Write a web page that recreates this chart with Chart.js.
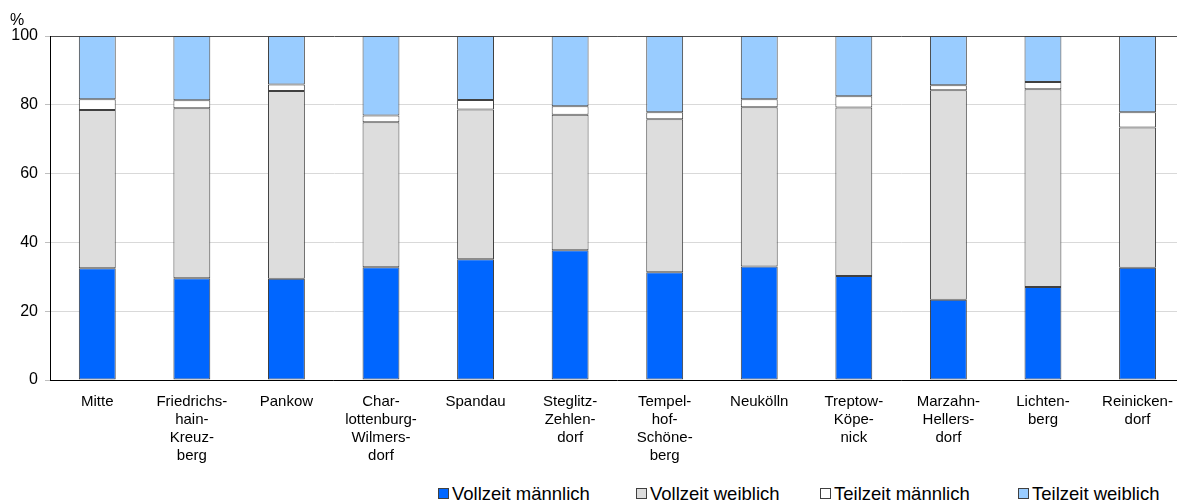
<!DOCTYPE html>
<html>
<head>
<meta charset="utf-8">
<script src="https://cdn.jsdelivr.net/npm/chart.js@4/dist/chart.umd.min.js"></script>
<style>
  body { margin: 0; background: #fff; }
  #wrap { position: relative; width: 1177px; height: 501px; overflow: hidden; font-family: "Liberation Sans", Arial, sans-serif; }
  #chart { position: absolute; left: 0; top: 0; }
  #unit { position: absolute; left: 10px; top: 11px; font-size: 16px; color: #000; }
  #legend { position: absolute; top: 484px; left: 0; font-size: 18.5px; color: #000; }
  .item { position: absolute; white-space: nowrap; line-height: 20px; }
  .box { display: inline-block; width: 9px; height: 9px; border: 1px solid #404040; margin-right: 3px; vertical-align: 1px; }
</style>
</head>
<body>
<div id="wrap">
  <canvas id="chart" width="1186" height="470"></canvas>
  <div id="unit">%</div>
  <div id="legend"></div>
</div>
<script>
// Bezirke (x-axis labels, split like in the original)
const bezirke = [
  ["Mitte"],
  ["Friedrichs-", "hain-", "Kreuz-", "berg"],
  ["Pankow"],
  ["Char-", "lottenburg-", "Wilmers-", "dorf"],
  ["Spandau"],
  ["Steglitz-", "Zehlen-", "dorf"],
  ["Tempel-", "hof-", "Schöne-", "berg"],
  ["Neukölln"],
  ["Treptow-", "Köpe-", "nick"],
  ["Marzahn-", "Hellers-", "dorf"],
  ["Lichten-", "berg"],
  ["Reinicken-", "dorf"]
];

// shares in %
const vollzeitMaennlich = [32.5, 29.6, 29.4, 32.8, 35.1, 37.7, 31.3, 33.0, 30.2, 23.3, 27.0, 32.6];
const vollzeitWeiblich = [46.0, 49.4, 54.6, 42.1, 43.5, 39.4, 44.5, 46.3, 49.0, 60.9, 57.5, 40.8];
const teilzeitMaennlich = [3.1, 2.3, 1.9, 2.0, 2.8, 2.5, 2.0, 2.3, 3.3, 1.5, 2.1, 4.4];
const teilzeitWeiblich = [18.4, 18.7, 14.1, 23.1, 18.6, 20.4, 22.2, 18.4, 17.5, 14.3, 13.4, 22.2];

const yTicks = [0, 20, 40, 60, 80, 100];

const seriesNames = ["Vollzeit männlich", "Vollzeit weiblich", "Teilzeit männlich", "Teilzeit weiblich"];
const seriesColors = ["#0066ff", "#dddddd", "#ffffff", "#99ccff"];
const seriesData = [vollzeitMaennlich, vollzeitWeiblich, teilzeitMaennlich, teilzeitWeiblich];

const font = "'Liberation Sans', Arial, sans-serif";

const datasets = seriesNames.map((name, i) => {
  return {
    label: name,
    data: seriesData[i],
    backgroundColor: seriesColors[i],
    borderColor: "#404040",
    borderWidth: 1,
    borderSkipped: false,
    barPercentage: 0.39,
    categoryPercentage: 1
  };
});

new Chart(document.getElementById("chart"), {
  type: "bar",
  data: { labels: bezirke, datasets: datasets },
  options: {
    responsive: false,
    animation: false,
    layout: { padding: { top: 36, right: 1, left: 0, bottom: 0 } },
    plugins: {
      legend: { display: false },
      tooltip: { enabled: false }
    },
    scales: {
      x: {
        stacked: true,
        grid: { display: false, drawTicks: false },
        border: { color: "#000", width: 1 },
        ticks: {
          color: "#000",
          font: { family: font, size: 15, lineHeight: 1.2 },
          padding: 13,
          maxRotation: 0,
          autoSkip: false
        },
        afterFit: (scale) => { scale.height = 90; }
      },
      y: {
        stacked: true,
        min: 0,
        max: 100,
        afterBuildTicks: (scale) => { scale.ticks = yTicks.map((v) => ({ value: v })); },
        grid: {
          color: (ctx) => (ctx.tick && ctx.tick.value === 100 ? "#4d4d4d" : "#d9d9d9"),
          tickLength: 5,
          tickColor: "#bfbfbf"
        },
        border: { color: "#000", width: 1 },
        ticks: {
          color: "#000",
          font: { family: font, size: 16 },
          padding: 7
        },
        afterFit: (scale) => { scale.width = 50; }
      }
    }
  }
});

// legend below the chart
const legendLeft = [438, 636, 820, 1018];
const legend = document.getElementById("legend");
seriesNames.forEach((name, i) => {
  const item = document.createElement("div");
  item.className = "item";
  item.style.left = legendLeft[i] + "px";
  const box = document.createElement("span");
  box.className = "box";
  box.style.background = seriesColors[i];
  item.appendChild(box);
  item.appendChild(document.createTextNode(name));
  legend.appendChild(item);
});
</script>
</body>
</html>
